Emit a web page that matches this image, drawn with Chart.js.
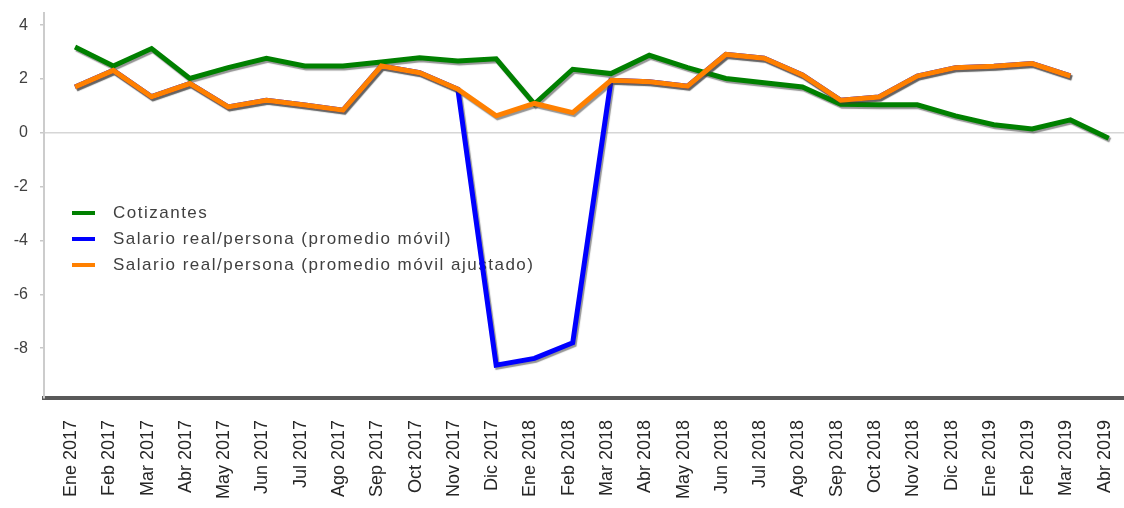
<!DOCTYPE html>
<html lang="es">
<head>
    <meta charset="UTF-8">
    <title>Cotizantes y salario real</title>
    <script src="https://cdn.jsdelivr.net/npm/chart.js"></script>
    <style>
        html, body { margin: 0; padding: 0; background: #fff; overflow: hidden; }
        .chart-container { width: 1124px; height: 508px; }
    </style>
</head>
<body>
    <div class="chart-container"><canvas id="chart"></canvas></div>

    <script>
        const months = ['Ene 2017', 'Feb 2017', 'Mar 2017', 'Abr 2017', 'May 2017', 'Jun 2017', 'Jul 2017',
            'Ago 2017', 'Sep 2017', 'Oct 2017', 'Nov 2017', 'Dic 2017', 'Ene 2018', 'Feb 2018', 'Mar 2018',
            'Abr 2018', 'May 2018', 'Jun 2018', 'Jul 2018', 'Ago 2018', 'Sep 2018', 'Oct 2018', 'Nov 2018',
            'Dic 2018', 'Ene 2019', 'Feb 2019', 'Mar 2019', 'Abr 2019'];

        const cotizantes = [3.19, 2.48, 3.13, 2.02, 2.42, 2.77, 2.48, 2.48, 2.63, 2.79, 2.67, 2.75, 1.07,
            2.36, 2.2, 2.88, 2.42, 2.02, 1.86, 1.7, 1.06, 1.04, 1.04, 0.63, 0.3, 0.14, 0.48, -0.2];

        const salarioMovil = [1.7, 2.32, 1.34, 1.83, 0.96, 1.21, 1.03, 0.84, 2.48, 2.23, 1.62, -8.63, -8.38,
            -7.8, 1.95, 1.9, 1.73, 2.91, 2.77, 2.15, 1.21, 1.33, 2.11, 2.42, 2.47, 2.57, 2.11, null];

        const salarioAjustado = [1.7, 2.32, 1.34, 1.83, 0.96, 1.21, 1.03, 0.84, 2.48, 2.23, 1.62, 0.63, 1.09,
            0.75, 1.95, 1.9, 1.73, 2.91, 2.77, 2.15, 1.21, 1.33, 2.11, 2.42, 2.47, 2.57, 2.11, null];

        const yTicks = [-8, -6, -4, -2, 0, 2, 4];

        const fontFamily = '"Liberation Sans", Arial, sans-serif';

        function toPoints(values) {
            return values.map((v, i) => ({ x: i, y: v }));
        }

        // sombra gris bajo las lineas
        const shadowPlugin = {
            id: 'shadow',
            beforeDatasetsDraw(chart) {
                const ctx = chart.ctx;
                ctx.save();
                ctx.shadowColor = 'rgba(60,60,60,0.55)';
                ctx.shadowOffsetX = 1.5;
                ctx.shadowOffsetY = 2;
                ctx.shadowBlur = 1;
            },
            afterDatasetsDraw(chart) {
                chart.ctx.restore();
            }
        };

        // leyenda dentro del area del grafico
        const legendPlugin = {
            id: 'innerLegend',
            beforeDatasetsDraw(chart) {
                const ctx = chart.ctx;
                ctx.save();
                ctx.font = '17px ' + fontFamily;
                ctx.letterSpacing = '1.5px';
                ctx.textBaseline = 'middle';
                chart.data.datasets.forEach((ds, i) => {
                    const y = 213 + i * 26;
                    ctx.strokeStyle = ds.borderColor;
                    ctx.lineWidth = 4;
                    ctx.beginPath();
                    ctx.moveTo(72, y);
                    ctx.lineTo(95, y);
                    ctx.stroke();
                    ctx.fillStyle = '#404040';
                    ctx.fillText(ds.label, 113, y);
                });
                ctx.restore();
            }
        };

        new Chart(document.getElementById('chart'), {
            type: 'line',
            data: {
                datasets: [
                    { label: 'Cotizantes', data: toPoints(cotizantes), borderColor: '#008000', order: 1 },
                    { label: 'Salario real/persona (promedio móvil)', data: toPoints(salarioMovil), borderColor: '#0000ff', order: 2 },
                    { label: 'Salario real/persona (promedio móvil ajustado)', data: toPoints(salarioAjustado), borderColor: '#ff8000', order: 0 }
                ]
            },
            options: {
                responsive: true,
                maintainAspectRatio: false,
                animation: false,
                layout: { padding: { top: 13, right: 0, left: 0, bottom: 0 } },
                elements: {
                    line: { borderWidth: 5, tension: 0, fill: false },
                    point: { radius: 0 }
                },
                scales: {
                    x: {
                        type: 'linear',
                        min: -0.81,
                        max: 27.4,
                        afterFit: scale => {
                            scale.height = 110;
                            scale.paddingLeft = 0;
                            scale.paddingRight = 0;
                        },
                        afterBuildTicks: scale => { scale.ticks = months.map((m, i) => ({ value: i })); },
                        grid: { display: false, drawTicks: false },
                        border: { display: true, color: '#595959', width: 4 },
                        ticks: {
                            autoSkip: false,
                            minRotation: 90,
                            maxRotation: 90,
                            padding: 22,
                            labelOffset: -4,
                            color: '#262626',
                            font: { family: fontFamily, size: 18 },
                            callback: v => months[v] ?? ''
                        }
                    },
                    y: {
                        min: -9.85,
                        max: 4.45,
                        afterFit: scale => {
                            scale.width = 44;
                            scale.paddingTop = 0;
                            scale.paddingBottom = 0;
                        },
                        afterBuildTicks: scale => { scale.ticks = yTicks.map(v => ({ value: v })); },
                        grid: {
                            color: c => c.tick && c.tick.value === 0 ? '#d6d6d6' : 'rgba(0,0,0,0)',
                            tickColor: '#c8c8c8',
                            tickLength: 4,
                            lineWidth: 1.5
                        },
                        border: { display: true, color: '#cccccc', width: 2 },
                        ticks: {
                            padding: 12,
                            color: '#404040',
                            font: { family: fontFamily, size: 16 }
                        }
                    }
                },
                plugins: {
                    legend: { display: false },
                    tooltip: { enabled: false }
                }
            },
            plugins: [legendPlugin, shadowPlugin]
        });
    </script>
</body>
</html>
